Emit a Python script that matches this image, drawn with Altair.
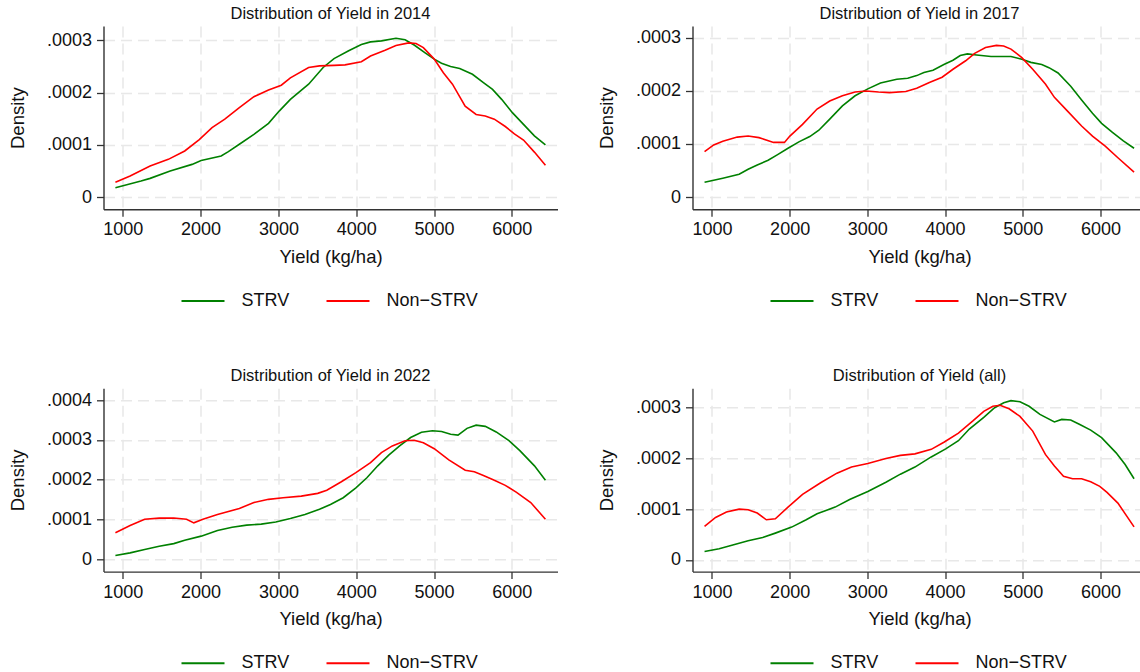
import altair as alt
import pandas as pd

FONT = "Liberation Sans"
groups = ["STRV", "Non\u2212STRV"]
colors = ["#008000", "#ff0000"]
titles = ["Distribution of Yield in 2014", "Distribution of Yield in 2017",
          "Distribution of Yield in 2022", "Distribution of Yield (all)"]
x_ticks = [1000, 2000, 3000, 4000, 5000, 6000]

# ---- 2014 ----
x14_s = [905,1234,1351,1609,1890,2007,2264,2357,2498,2685,2873,3013,3154,3388,3575,3715,3903,4066,4184,4324,4511,4628,4745,4886,5003,5096,5213,5330,5494,5635,5752,5869,6010,6150,6290,6432]
y14_s = [0.179e-4,0.306e-4,0.357e-4,0.498e-4,0.625e-4,0.70e-4,0.785e-4,0.868e-4,1.01e-4,1.20e-4,1.41e-4,1.65e-4,1.87e-4,2.16e-4,2.48e-4,2.65e-4,2.80e-4,2.92e-4,2.97e-4,2.99e-4,3.04e-4,3.01e-4,2.91e-4,2.76e-4,2.64e-4,2.56e-4,2.50e-4,2.46e-4,2.35e-4,2.19e-4,2.06e-4,1.87e-4,1.61e-4,1.39e-4,1.17e-4,1.00e-4]
x14_n = [905,1094,1351,1585,1796,1983,2147,2311,2498,2685,2873,3037,3154,3388,3528,3715,3856,4066,4184,4371,4511,4675,4769,4863,5003,5120,5237,5400,5541,5658,5775,5916,6033,6150,6290,6432]
y14_n = [0.281e-4,0.402e-4,0.593e-4,0.721e-4,0.881e-4,1.10e-4,1.33e-4,1.49e-4,1.71e-4,1.92e-4,2.05e-4,2.14e-4,2.28e-4,2.48e-4,2.51e-4,2.52e-4,2.53e-4,2.59e-4,2.70e-4,2.81e-4,2.90e-4,2.95e-4,2.94e-4,2.86e-4,2.64e-4,2.38e-4,2.16e-4,1.74e-4,1.58e-4,1.55e-4,1.49e-4,1.35e-4,1.21e-4,1.09e-4,0.86e-4,0.61e-4]

# ---- 2017 ----
x17_s = [905,1140,1350,1466,1583,1723,1840,1979,2119,2259,2376,2516,2679,2842,3006,3169,3379,3519,3635,3728,3845,3985,4102,4195,4288,4405,4591,4848,4988,5104,5244,5337,5454,5617,5757,5897,6014,6154,6294,6432]
y17_s = [0.277e-4,0.353e-4,0.428e-4,0.523e-4,0.605e-4,0.693e-4,0.794e-4,0.92e-4,1.04e-4,1.14e-4,1.26e-4,1.47e-4,1.72e-4,1.91e-4,2.04e-4,2.15e-4,2.22e-4,2.24e-4,2.29e-4,2.35e-4,2.39e-4,2.50e-4,2.58e-4,2.67e-4,2.70e-4,2.68e-4,2.65e-4,2.65e-4,2.60e-4,2.54e-4,2.50e-4,2.44e-4,2.34e-4,2.09e-4,1.83e-4,1.58e-4,1.39e-4,1.22e-4,1.06e-4,0.92e-4]
x17_n = [905,1023,1140,1326,1466,1606,1793,1933,2003,2166,2353,2516,2679,2842,2982,3145,3285,3495,3635,3798,3962,4102,4265,4381,4521,4661,4754,4848,4988,5128,5291,5407,5570,5757,5897,6061,6224,6432]
y17_n = [0.857e-4,0.983e-4,1.05e-4,1.13e-4,1.15e-4,1.12e-4,1.03e-4,1.03e-4,1.15e-4,1.37e-4,1.66e-4,1.81e-4,1.91e-4,1.98e-4,2.00e-4,1.98e-4,1.97e-4,1.99e-4,2.05e-4,2.16e-4,2.26e-4,2.41e-4,2.57e-4,2.71e-4,2.82e-4,2.86e-4,2.85e-4,2.79e-4,2.63e-4,2.41e-4,2.13e-4,1.88e-4,1.63e-4,1.34e-4,1.15e-4,0.96e-4,0.74e-4,0.47e-4]

# ---- 2022 ----
x22_s = [905,1094,1281,1468,1655,1796,2007,2217,2405,2592,2779,2966,3154,3341,3528,3669,3833,3996,4137,4277,4418,4558,4699,4839,4980,5097,5214,5308,5424,5541,5659,5799,5963,6103,6291,6432]
y22_s = [0.10e-4,0.168e-4,0.25e-4,0.335e-4,0.40e-4,0.486e-4,0.587e-4,0.73e-4,0.81e-4,0.864e-4,0.889e-4,0.94e-4,1.03e-4,1.13e-4,1.26e-4,1.38e-4,1.55e-4,1.80e-4,2.05e-4,2.35e-4,2.62e-4,2.85e-4,3.06e-4,3.19e-4,3.23e-4,3.21e-4,3.14e-4,3.12e-4,3.29e-4,3.37e-4,3.34e-4,3.20e-4,2.98e-4,2.73e-4,2.35e-4,1.99e-4]
x22_n = [905,1094,1281,1468,1655,1819,1913,2030,2217,2498,2685,2873,3060,3294,3505,3622,3809,3996,4184,4324,4464,4628,4745,4863,5003,5190,5401,5518,5635,5775,5916,6056,6243,6432]
y22_n = [0.67e-4,0.855e-4,1.01e-4,1.04e-4,1.04e-4,1.01e-4,0.92e-4,1.01e-4,1.13e-4,1.28e-4,1.43e-4,1.51e-4,1.55e-4,1.59e-4,1.66e-4,1.74e-4,1.95e-4,2.18e-4,2.43e-4,2.68e-4,2.85e-4,2.98e-4,2.99e-4,2.93e-4,2.78e-4,2.50e-4,2.24e-4,2.20e-4,2.11e-4,1.99e-4,1.86e-4,1.69e-4,1.43e-4,1.01e-4]

# ---- all ----
xal_s = [905,1093,1280,1466,1653,1816,2026,2213,2353,2586,2772,3006,3239,3425,3612,3822,4008,4172,4312,4498,4638,4755,4848,4964,5081,5221,5407,5501,5617,5734,5874,6014,6201,6317,6432]
yal_s = [0.165e-4,0.218e-4,0.297e-4,0.376e-4,0.44e-4,0.527e-4,0.646e-4,0.79e-4,0.91e-4,1.04e-4,1.19e-4,1.35e-4,1.53e-4,1.69e-4,1.83e-4,2.03e-4,2.19e-4,2.35e-4,2.58e-4,2.81e-4,3.00e-4,3.10e-4,3.14e-4,3.12e-4,3.03e-4,2.87e-4,2.72e-4,2.77e-4,2.76e-4,2.67e-4,2.56e-4,2.41e-4,2.11e-4,1.88e-4,1.60e-4]
xal_n = [905,1047,1187,1350,1466,1583,1700,1816,1979,2166,2399,2609,2796,3006,3239,3425,3612,3822,3985,4172,4358,4498,4615,4708,4824,4964,5128,5291,5407,5524,5641,5757,5874,5991,6084,6224,6432]
yal_n = [0.66e-4,0.837e-4,0.943e-4,1.00e-4,0.989e-4,0.923e-4,0.79e-4,0.81e-4,1.04e-4,1.29e-4,1.52e-4,1.71e-4,1.83e-4,1.90e-4,2.00e-4,2.06e-4,2.09e-4,2.18e-4,2.32e-4,2.50e-4,2.74e-4,2.93e-4,3.03e-4,3.05e-4,2.98e-4,2.83e-4,2.54e-4,2.08e-4,1.85e-4,1.65e-4,1.60e-4,1.60e-4,1.54e-4,1.45e-4,1.33e-4,1.12e-4,0.65e-4]

y_ticks3 = [0, 0.0001, 0.0002, 0.0003]
y_ticks4 = [0, 0.0001, 0.0002, 0.0003, 0.0004]

LABEL_EXPR = "datum.value == 0 ? '0' : substring(format(datum.value, '.4f'), 1)"


def panel(title, xs, ys, xn, yn, xdom, ydom, yticks, width, dx):
    df = pd.DataFrame({
        "Yield": xs + xn,
        "Density": ys + yn,
        "Group": [groups[0]] * len(xs) + [groups[1]] * len(xn),
    })
    return alt.Chart(df, title=alt.Title(
        title, fontSize=16.5, font=FONT, fontWeight="normal", color="#111111",
        anchor="middle", frame="group", baseline="alphabetic", offset=-9, dx=dx,
    )).mark_line(strokeWidth=1.6, clip=True).encode(
        x=alt.X("Yield:Q",
                scale=alt.Scale(domain=xdom, nice=False, zero=False),
                axis=alt.Axis(values=x_ticks, title="Yield (kg/ha)", titleX=227,
                              labelPadding=4.5, titlePadding=8.4, format="d")),
        y=alt.Y("Density:Q",
                scale=alt.Scale(domain=ydom, nice=False, zero=False),
                axis=alt.Axis(values=yticks, labelExpr=LABEL_EXPR, title="Density",
                              labelPadding=5, titlePadding=18.7)),
        color=alt.Color("Group:N",
                        scale=alt.Scale(domain=groups, range=colors),
                        legend=alt.Legend(orient="none", legendX=77, legendY=252.2,
                                          direction="horizontal", title=None,
                                          symbolType="stroke", symbolSize=1849,
                                          symbolStrokeWidth=2, labelFontSize=18,
                                          labelFont=FONT, labelColor="#111111",
                                          labelOffset=16, columnPadding=33, padding=0)),
    ).properties(width=width, height=183.3)


p1 = panel(titles[0], x14_s, y14_s, x14_n, y14_n, [752, 6587], [-0.0000235, 0.0003274], y_ticks3, 454, 0)
p2 = panel(titles[1], x17_s, y17_s, x17_n, y17_n, [750, 6502], [-0.0000232, 0.0003226], y_ticks3, 447, 3.5)
p3 = panel(titles[2], x22_s, y22_s, x22_n, y22_n, [752, 6587], [-0.0000302, 0.0004294], y_ticks4, 454, 0)
p4 = panel(titles[3], xal_s, yal_s, xal_n, yal_n, [750, 6502], [-0.0000232, 0.0003384], y_ticks3, 447, 3.5)

chart = alt.concat(p1, p2, p3, p4, columns=2, spacing={"row": 178.3, "column": 135}, bounds="flush").resolve_scale(
    color="independent"
).resolve_legend(color="independent").properties(
    padding={"left": 8.5, "top": 5, "right": 0, "bottom": 0},
    background="white",
).configure_view(stroke=None).configure_axis(
    labelFont=FONT, titleFont=FONT, labelFontSize=18, titleFontSize=18.5,
    labelColor="#111111", titleColor="#111111", titleFontWeight="normal",
    domainColor="#333333", domainWidth=1.4, tickColor="#333333", tickWidth=1.3, tickSize=7,
    gridColor="#e8e8e8", gridWidth=1.5, gridDash=[11, 6],
)

chart.save("out.html", embed_options={"renderer": "svg", "actions": False})
